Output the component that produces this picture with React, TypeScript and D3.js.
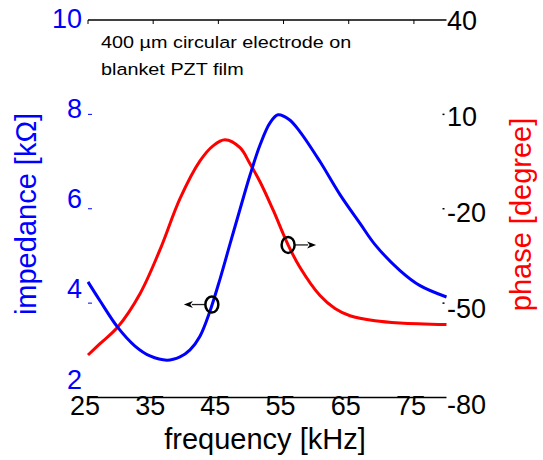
import React from "react";
import * as d3 from "d3";

// ---- data ----
const impFreq = [25.0, 26.84, 29.6, 32.21, 34.51, 37.12, 39.11, 40.65, 42.18, 43.71, 45.25, 46.78, 48.32, 49.85, 51.39, 52.92, 54.15, 55.85, 57.53, 60.59, 63.66, 66.73, 69.03, 72.87, 75.94, 80.0];
const impVal = [4.45, 4.05, 3.48, 3.09, 2.88, 2.79, 2.86, 3.01, 3.3, 3.83, 4.51, 5.25, 5.99, 6.71, 7.35, 7.82, 7.99, 7.89, 7.63, 7.0, 6.3, 5.69, 5.24, 4.69, 4.37, 4.13];

const phaseFreq = [25.0, 26.84, 29.6, 32.98, 36.05, 39.11, 42.18, 44.18, 46.02, 48.32, 49.85, 51.39, 53.38, 55.68, 57.53, 60.59, 62.89, 65.19, 69.03, 72.87, 80.0];
const phaseVal = [-66.5, -62.9, -57.5, -47.0, -33.0, -16.8, -4.8, 0.0, 1.9, -0.6, -5.7, -11.4, -20.3, -31.4, -38.7, -47.6, -51.7, -54.0, -55.6, -56.3, -56.8];

const xTicks = [25, 35, 45, 55, 65, 75];
const leftTicks = [2, 4, 6, 8, 10];
const rightTicks = [-80, -50, -20, 10, 40];

// annotation markers: frequency, value on its curve, arrow direction
const markerImp = { freq: 44.0, value: 3.97, dir: -1 };
const markerPhase = { freq: 55.7, value: -31.5, dir: 1 };

const xLabel = "frequency [kHz]";
const leftLabel = "impedance [kΩ]";
const rightLabel = "phase [degree]";
const noteLines = ["400 µm circular electrode on", "blanket PZT film"];

export default function App() {
  const W = 543, H = 460;
  const x = d3.scaleLinear().domain([25, 80]).range([88, 446.5]);
  const yL = d3.scaleLinear().domain([2, 10]).range([397.5, 20]);
  const yR = d3.scaleLinear().domain([-80, 40]).range([397.5, 20]);
  const yLlab = d3.scaleLinear().domain([2, 10]).range([379, 18]);
  const yRlab = d3.scaleLinear().domain([-80, 40]).range([404, 20]);

  const impData = impFreq.map((f, i) => [f, impVal[i]] as [number, number]);
  const phData = phaseFreq.map((f, i) => [f, phaseVal[i]] as [number, number]);

  const lineImp = d3.line<[number, number]>().x(d => x(d[0])).y(d => yL(d[1])).curve(d3.curveCatmullRom.alpha(0.5));
  const linePh = d3.line<[number, number]>().x(d => x(d[0])).y(d => yR(d[1])).curve(d3.curveCatmullRom.alpha(0.5));

  const font = "'Liberation Sans', Arial, Helvetica, sans-serif";
  const tickFs = 27;
  const titleFs = 29;

  const marker = (cx: number, cy: number, dir: number, key: string) => {
    const start = cx + dir * 7;
    const tip = cx + dir * 28;
    const back = tip - dir * 9;
    return (
      <g key={key}>
        <line x1={start} y1={cy} x2={back + dir * 1} y2={cy} stroke="#222" strokeWidth={1.3} />
        <path d={`M${tip},${cy} L${back},${cy - 3.5} L${back + dir * 2.5},${cy} L${back},${cy + 3.5} Z`} fill="#000" />
        <ellipse cx={cx} cy={cy} rx={6.5} ry={8} fill="none" stroke="#000" strokeWidth={2.5} />
      </g>
    );
  };

  return (
    <svg width={W} height={H} style={{ position: "absolute", left: 0, top: 0, background: "#fff" }} fontFamily={font}>
      <rect x={0} y={0} width={W} height={H} fill="#fff" />
      {/* top and bottom axis lines */}
      <line x1={x(25)} x2={x(80)} y1={20} y2={20} stroke="#000" strokeWidth={1.5} />
      <line x1={x(25)} x2={x(80)} y1={397.5} y2={397.5} stroke="#000" strokeWidth={1.5} />
      {xTicks.map(t => (
        <line key={"tt" + t} x1={x(t)} x2={x(t)} y1={20} y2={24} stroke="#000" strokeWidth={1} />
      ))}
      {/* left ticks */}
      {leftTicks.filter(t => t > 2 && t < 10).map(t => (
        <line key={"lt" + t} x1={x(25)} x2={x(25) + 4} y1={yL(t)} y2={yL(t)} stroke="#0000ff" strokeWidth={1} />
      ))}
      {/* right ticks */}
      {rightTicks.filter(t => t > -80 && t < 40).map(t => (
        <line key={"rt" + t} x1={x(80) - 4} x2={x(80) - 2} y1={yR(t)} y2={yR(t)} stroke="#000" strokeWidth={1.5} />
      ))}

      {/* curves */}
      <path d={linePh(phData) || ""} fill="none" stroke="#ff0000" strokeWidth={3} />
      <path d={lineImp(impData) || ""} fill="none" stroke="#0000ff" strokeWidth={3} />

      {/* markers */}
      {marker(x(markerImp.freq), yL(markerImp.value), markerImp.dir, "m1")}
      {marker(x(markerPhase.freq), yR(markerPhase.value), markerPhase.dir, "m2")}

      {/* tick labels */}
      {xTicks.map(t => (
        <text key={"xl" + t} x={x(t) - 3} y={415} fontSize={tickFs} textAnchor="middle" fill="#000">{t}</text>
      ))}
      {leftTicks.map(t => (
        <text key={"ll" + t} x={82} y={yLlab(t) + 0.36 * tickFs} fontSize={tickFs} textAnchor="end" fill="#0000ff">{t}</text>
      ))}
      {rightTicks.map(t => (
        <text key={"rl" + t} x={447} y={yRlab(t) + 0.36 * tickFs} fontSize={tickFs} textAnchor="start" fill="#000">{t}</text>
      ))}

      {/* axis titles */}
      <text x={265} y={449} fontSize={titleFs} textAnchor="middle" fill="#000">{xLabel}</text>
      <text transform="translate(36,214) rotate(-90)" fontSize={titleFs} textAnchor="middle" fill="#0000ff">{leftLabel}</text>
      <text transform="translate(531,214.5) rotate(-90)" fontSize={titleFs} textAnchor="middle" fill="#ff0000">{rightLabel}</text>

      {/* note */}
      {noteLines.map((s, i) => (
        <text key={"n" + i} transform={`translate(101,${48 + i * 26.5}) scale(1.166,1)`} fontSize={17} fill="#000">{s}</text>
      ))}
    </svg>
  );
}
